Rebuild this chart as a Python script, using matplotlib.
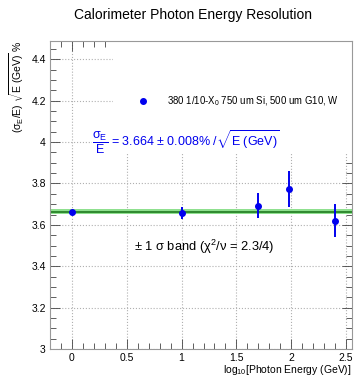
import matplotlib
matplotlib.use("Agg")
import matplotlib.pyplot as plt
from matplotlib.patches import Rectangle
from matplotlib.ticker import MultipleLocator

plt.rcParams["font.family"] = ["Liberation Sans", "DejaVu Sans"]
plt.rcParams["mathtext.fontset"] = "custom"
plt.rcParams["mathtext.rm"] = "Liberation Sans"
plt.rcParams["mathtext.it"] = "Liberation Sans:italic"
plt.rcParams["mathtext.sf"] = "Liberation Sans"

# data
log_energy = [0.0, 1.0, 1.699, 1.978, 2.398]
resolution = [3.662, 3.657, 3.692, 3.773, 3.621]
res_err = [0.004, 0.027, 0.061, 0.086, 0.081]
fit_value = 3.664
fit_err = 0.008

blue = "#0000ee"

fig = plt.figure(figsize=(3.6, 3.82), dpi=100)
ax = fig.add_axes([0.139, 0.0864, 0.839, 0.807])
ax.set_xlim(-0.2, 2.555)
ax.set_ylim(3.0, 4.49)

# grid, partly hidden by the white boxes below
ax.grid(True, which="major", color="#b0b0b0", linestyle=":", linewidth=0.8)
ax.set_axisbelow(True)
ax.add_patch(Rectangle((0.21, 0.64), 0.79, 0.36, transform=ax.transAxes,
                       facecolor="white", edgecolor="none", zorder=1.5))
ax.add_patch(Rectangle((0.14, 0.635), 0.86, 0.08, transform=ax.transAxes,
                       facecolor="white", edgecolor="none", zorder=1.5))

# fit band
ax.axhspan(fit_value - 1.5 * fit_err, fit_value + 1.5 * fit_err,
           color="#8fe08f", zorder=2, linewidth=0)
ax.axhline(fit_value, color="#1f7a1f", linewidth=1.2, zorder=2.5)

ax.errorbar(log_energy, resolution, yerr=res_err, fmt="o", color=blue,
            markersize=4, elinewidth=1.4, capsize=0, zorder=3)

# legend entry
ax.plot([0.65], [4.2], "o", color=blue, markersize=4, zorder=3)
ax.text(0.87, 4.2, r"380 1/10-X$_0$ 750 um Si, 500 um G10, W",
        fontsize=6.9, va="center", ha="left", zorder=3)

ax.text(0.18, 4.0,
        r"$\dfrac{\mathrm{σ_E}}{\mathrm{E}}$ = 3.664 $\pm$ 0.008% /$\sqrt{\mathrm{E\ (GeV)}}$",
        fontsize=9, color=blue, va="center", ha="left", zorder=3)

ax.text(1.21, 3.495, r"$\pm$ 1 σ band (χ$^2$/ν = 2.3/4)",
        fontsize=9.3, va="center", ha="center", zorder=3)

ax.xaxis.set_major_locator(MultipleLocator(0.5))
ax.xaxis.set_minor_locator(MultipleLocator(0.1))
ax.yaxis.set_major_locator(MultipleLocator(0.2))
ax.yaxis.set_minor_locator(MultipleLocator(0.05))
ax.set_xticks([0, 0.5, 1, 1.5, 2, 2.5])
ax.set_xticklabels(["0", "0.5", "1", "1.5", "2", "2.5"])
ax.set_yticks([3.0, 3.2, 3.4, 3.6, 3.8, 4.0, 4.2, 4.4])
ax.set_yticklabels(["3", "3.2", "3.4", "3.6", "3.8", "4", "4.2", "4.4"])
ax.tick_params(which="both", direction="in", top=True, right=True,
               labelsize=7.5, color="#444444", pad=3)
ax.tick_params(which="major", length=7, width=0.6)
ax.tick_params(which="minor", length=4, width=0.6)
for sp in ax.spines.values():
    sp.set_color("#999999")
    sp.set_linewidth(0.8)

ax.set_ylabel(r"($\mathrm{σ_E}$/E) $\sqrt{\mathrm{E\ (GeV)}}$ %",
              fontsize=7.5, loc="top", labelpad=4)
ax.set_xlabel(r"log$_{10}$[Photon Energy (GeV)]", fontsize=7.5,
              loc="right", labelpad=0)

fig.text(0.535, 0.96, "Calorimeter Photon Energy Resolution",
         fontsize=10, ha="center", va="center")

fig.savefig("out.png", dpi=100)
